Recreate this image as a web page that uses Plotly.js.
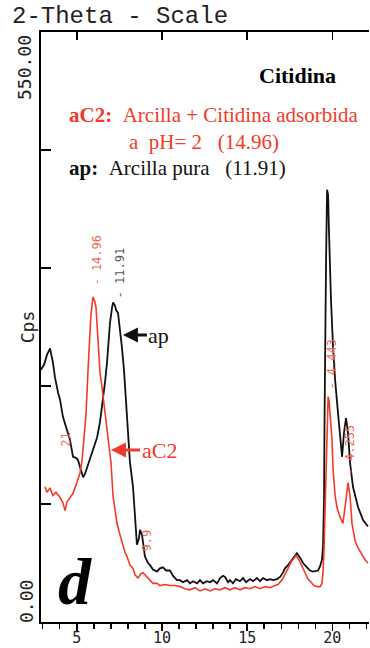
<!DOCTYPE html>
<html><head><meta charset="utf-8">
<script src="https://cdn.plot.ly/plotly-3.0.1.min.js"></script>
<style>html,body{margin:0;padding:0;background:#fff}#chart{width:370px;height:648px}</style>
</head><body><div id="chart"></div>
<script>
// ap: Arcilla pura (black)
const apTheta = [2.90,3.08,3.25,3.43,3.60,3.72,3.90,4.02,4.19,4.43,4.60,4.78,4.95,5.07,5.25,5.37,5.48,5.60,5.78,5.95,6.07,6.19,6.36,6.54,6.66,6.77,6.89,6.95,7.07,7.13,7.24,7.30,7.42,7.54,7.65,7.77,7.83,7.95,8.01,8.12,8.30,8.42,8.53,8.65,8.71,8.83,8.89,9.00,9.18,9.30,9.47,9.71,9.88,10.06,10.24,10.47,10.65,10.88,11.06,11.23,11.47,11.64,11.82,12.06,12.23,12.41,12.64,12.82,13.00,13.23,13.41,13.58,13.70,13.88,13.99,14.17,14.34,14.58,14.76,14.93,15.17,15.34,15.58,15.75,15.93,16.16,16.34,16.52,16.75,16.93,17.10,17.22,17.40,17.63,17.81,17.92,18.10,18.28,18.51,18.69,18.86,19.04,19.16,19.28,19.39,19.45,19.51,19.54,19.57,19.63,19.69,19.75,19.80,19.86,19.92,20.04,20.16,20.33,20.51,20.57,20.68,20.80,20.92,21.04,21.21,21.51,21.80,22.09];
const apCps = [235,240,249,255,242,228,214,207,191,179,170,154,153,151,142,135,138,144,153,160,167,172,186,207,224,241,268,279,293,298,295,291,288,274,256,235,219,193,174,149,126,98,72,78,86,81,74,61,55,53,49,47,50,51,48,48,43,39,39,37,39,36,38,36,39,36,38,37,39,36,41,43,42,37,39,36,40,38,41,37,40,38,41,38,41,39,40,39,40,42,46,50,53,58,62,64,60,55,51,48,47,48,48,52,58,70,114,188,272,337,403,398,365,328,300,256,226,195,163,154,176,190,176,148,126,107,95,89];
// aC2: Arcilla + Citidina adsorbida a pH = 2 (red)
const ac2Theta = [3.13,3.25,3.43,3.60,3.78,4.02,4.19,4.31,4.43,4.60,4.78,5.01,5.19,5.31,5.42,5.54,5.66,5.72,5.83,5.95,6.07,6.13,6.25,6.36,6.48,6.66,6.83,6.95,7.01,7.13,7.24,7.36,7.54,7.65,7.83,7.95,8.12,8.30,8.42,8.59,8.77,8.89,9.12,9.30,9.47,9.71,9.88,10.18,10.47,10.76,11.06,11.35,11.64,11.94,12.23,12.53,12.82,13.11,13.41,13.70,13.99,14.29,14.58,14.87,15.17,15.46,15.75,16.05,16.34,16.63,16.81,17.04,17.22,17.40,17.57,17.75,17.87,18.04,18.22,18.40,18.57,18.75,18.92,19.10,19.28,19.39,19.45,19.51,19.57,19.63,19.69,19.75,19.80,19.86,19.98,20.04,20.16,20.27,20.45,20.62,20.74,20.80,20.92,21.04,21.15,21.33,21.51,21.68,21.92,22.09];
const ac2Cps = [126,121,125,118,121,116,111,104,112,116,120,130,139,151,170,193,235,256,286,303,298,293,256,233,219,195,176,160,148,117,103,92,81,74,65,61,53,50,44,41,45,46,42,39,36,36,34,35,34,34,33,31,30,32,29,31,29,31,30,32,30,32,30,32,31,33,31,33,32,34,35,39,44,50,56,60,62,58,52,45,40,37,34,33,33,36,46,67,104,160,188,210,207,195,170,142,118,107,98,92,104,114,130,117,92,76,69,64,58,55];

const yTickVals = [0,110,220,330,440,550];
const yEndLabels = ['0.00','550.00'];
const xTickVals = [5,10,15,20];

// peak d-spacing labels (text, 2-theta anchor, cps anchor, colour key)
const peakText  = ['- 14.96','- 11.91','- 4.443','- 4.255','9.9','21'];
const peakTheta = [6.19,7.54,19.98,21.04,9.12,4.37];
const peakCps   = [337,325,240,160,76,170];
const peakIsRed = [true,false,true,true,true,true];

const RED = '#f23a2a';
const BLK = '#111111';
const mono = 'DejaVu Sans Mono';
const serif = 'Liberation Serif';
const nb = '\u00a0';

const traces = [
  {x: apTheta, y: apCps, type:'scatter', mode:'lines', line:{color:BLK, width:1.8}, hoverinfo:'skip'},
  {x: ac2Theta, y: ac2Cps, type:'scatter', mode:'lines', line:{color:RED, width:1.6}, hoverinfo:'skip'},
  {x: [], y: [], xaxis:'x2', type:'scatter', mode:'lines', showlegend:false}
];

const annotations = [
  {xref:'paper', yref:'paper', x:-0.0488, y:0.9407, text:yEndLabels[1], textangle:-90, showarrow:false,
   xanchor:'center', yanchor:'middle', font:{family:mono, size:18, color:'#222'}},
  {xref:'paper', yref:'paper', x:-0.0427, y:0.0356, text:yEndLabels[0], textangle:-90, showarrow:false,
   xanchor:'center', yanchor:'middle', font:{family:mono, size:18, color:'#222'}},
  {xref:'paper', yref:'paper', x:0.782, y:0.927, text:'<b>Citidina</b>', showarrow:false,
   xanchor:'center', yanchor:'middle', font:{family:serif, size:22, color:'#000'}},
  {xref:'paper', yref:'paper', x:0.0793, y:0.859, text:'<b>aC2:</b>'+nb+nb+'Arcilla + Citidina adsorbida', showarrow:false,
   xanchor:'left', yanchor:'middle', font:{family:serif, size:21, color:RED}},
  {xref:'paper', yref:'paper', x:0.262, y:0.8136, text:'a'+nb+nb+'pH= 2'+nb+nb+nb+'(14.96)', showarrow:false,
   xanchor:'left', yanchor:'middle', font:{family:serif, size:21, color:RED}},
  {xref:'paper', yref:'paper', x:0.0793, y:0.7695, text:'<b>ap:</b>'+nb+nb+'Arcilla pura'+nb+nb+nb+'(11.91)', showarrow:false,
   xanchor:'left', yanchor:'middle', font:{family:serif, size:21, color:BLK}},
  {xref:'x', yref:'y', x:7.71, y:267.5, text:'ap', showarrow:true, ax:36, ay:0,
   arrowhead:2, arrowsize:1, arrowwidth:3, arrowcolor:BLK, font:{family:serif, size:22, color:BLK}},
  {xref:'x', yref:'y', x:7.01, y:160.3, text:'aC2', showarrow:true, ax:48, ay:0,
   arrowhead:2, arrowsize:1, arrowwidth:3, arrowcolor:RED, font:{family:serif, size:22, color:RED}},
  {xref:'paper', yref:'paper', x:0.105, y:0.0686, text:'<b><i>d</i></b>', showarrow:false,
   xanchor:'center', yanchor:'middle', font:{family:serif, size:66, color:'#000'}}
];
for (let i = 0; i < peakText.length; i++) {
  annotations.push({xref:'x', yref:'y', x:peakTheta[i], y:peakCps[i], text:peakText[i], textangle:-90,
    showarrow:false, xanchor:'center', yanchor:'middle',
    font:{family:mono, size:12, color: peakIsRed[i] ? '#f06a5a' : '#555'}});
}

const layout = {
  width:370, height:648,
  margin:{l:41, r:1, t:32, b:26, pad:0},
  paper_bgcolor:'#fff', plot_bgcolor:'#fff',
  showlegend:false,
  title:{text:'2-Theta - Scale', xref:'container', yref:'container', x:12/370, xanchor:'left',
         y:1-15/648, yanchor:'middle', font:{family:'Liberation Mono', size:24, color:'#222'}},
  xaxis:{range:[2.9,22.15], showgrid:false, zeroline:false, showline:true, mirror:true,
         linecolor:'#000', linewidth:2, ticks:'outside', ticklen:7, tickwidth:1.5, tickcolor:'#000',
         tickmode:'array', tickvals:xTickVals, ticklabelstandoff:-6,
         tickfont:{family:mono, size:15, color:'#222'},
         minor:{dtick:1, tick0:0, ticks:'outside', ticklen:5, tickwidth:1.5, tickcolor:'#000', showgrid:false}},
  xaxis2:{overlaying:'x', matches:'x', side:'top', range:[2.9,22.15], showgrid:false, zeroline:false,
          showline:false, ticks:'inside', ticklen:8, tickwidth:1.5, tickcolor:'#000',
          tickmode:'array', tickvals:xTickVals, showticklabels:false},
  yaxis:{range:[0,550], showgrid:false, zeroline:false, showline:true, linecolor:'#000', linewidth:2,
         ticks:'inside', ticklen:10, tickwidth:1.5, tickcolor:'#000', tickmode:'array', tickvals:yTickVals,
         showticklabels:false,
         title:{text:'Cps', standoff:0, font:{family:mono, size:18, color:'#222'}}},
  annotations: annotations
};

Plotly.newPlot('chart', traces, layout, {staticPlot:true, displayModeBar:false});
</script></body></html>
